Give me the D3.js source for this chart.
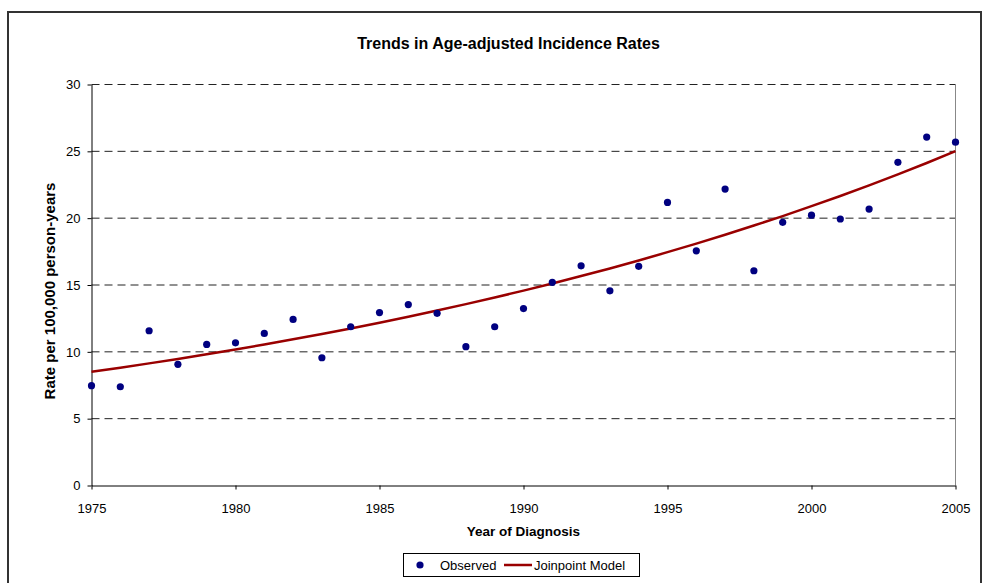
<!DOCTYPE html>
<html>
<head>
<meta charset="utf-8">
<script src="https://cdn.jsdelivr.net/npm/d3@7"></script>
<style>
  body { margin: 0; background: #fff; }
  text { font-family: "Liberation Sans", Arial, sans-serif; }
</style>
</head>
<body>
<svg id="chart" width="985" height="583"></svg>
<script>
// data
const years    = d3.range(1975, 2006)
const observed = [7.43, 7.35, 11.54, 9.03, 10.52, 10.64, 11.34, 12.39, 9.52, 11.84,
                  12.9, 13.5, 12.84, 10.35, 11.84, 13.2, 15.16, 16.4, 14.53, 16.36,
                  21.14, 17.52, 22.14, 16.03, 19.65, 20.19, 19.9, 20.64, 24.14, 26.03, 25.65]
const modelFit = [8.47, 8.78, 9.10, 9.43, 9.78, 10.14, 10.51, 10.90, 11.30, 11.71,
                  12.14, 12.59, 13.05, 13.53, 14.03, 14.54, 15.08, 15.63, 16.20, 16.80,
                  17.42, 18.06, 18.72, 19.41, 20.12, 20.86, 21.62, 22.42, 23.24, 24.09, 24.98]
const yTicks = [0, 5, 10, 15, 20, 25, 30]
const xTicks = [1975, 1980, 1985, 1990, 1995, 2000, 2005]

const svg = d3.select("#chart")

// outer frame
svg.append("rect")
  .attr("x", 8).attr("y", 12)
  .attr("width", 973).attr("height", 600)
  .attr("fill", "none")
  .attr("stroke", "#333")
  .attr("stroke-width", 2)

const x = d3.scaleLinear().domain([1975, 2005]).range([91.5, 955.5])
const y = d3.scaleLinear().domain([0, 30]).range([485, 84])

// grid lines (dashed)
svg.append("g").selectAll("line")
  .data(yTicks.filter(d => d > 0))
  .join("line")
  .attr("x1", x(1975)).attr("x2", x(2005))
  .attr("y1", d => y(d) + 0.5).attr("y2", d => y(d) + 0.5)
  .attr("stroke", "#222")
  .attr("stroke-dasharray", "8,5")

// right border of the plot area
svg.append("line")
  .attr("x1", x(2005)).attr("x2", x(2005))
  .attr("y1", y(30)).attr("y2", y(0))
  .attr("stroke", "#888")

// y axis
let yAxis = svg.append("g")
  .attr("transform", "translate(" + x(1975) + ",0.5)")
  .call(d3.axisLeft(y).tickValues(yTicks).tickSize(4).tickPadding(7).tickSizeOuter(0))
yAxis.selectAll("text").attr("font-size", 13).attr("fill", "#000")
  .style("font-family", "Liberation Sans, Arial, sans-serif")

// x axis
let xAxis = svg.append("g")
  .attr("transform", "translate(0," + (y(0) + 0.5) + ")")
  .call(d3.axisBottom(x).tickValues(xTicks).tickFormat(d3.format("d")).tickSize(4).tickPadding(14).tickSizeOuter(0))
xAxis.selectAll("text").attr("font-size", 13).attr("fill", "#000")
  .style("font-family", "Liberation Sans, Arial, sans-serif")

// model line
let line = d3.line()
  .x((d, i) => x(years[i]))
  .y(d => y(d))
svg.append("path")
  .datum(modelFit)
  .attr("d", line)
  .attr("fill", "none")
  .attr("stroke", "#990000")
  .attr("stroke-width", 2.5)

// observed points
svg.append("g").selectAll("circle")
  .data(observed)
  .join("circle")
  .attr("cx", (d, i) => x(years[i]))
  .attr("cy", d => y(d))
  .attr("r", 3.6)
  .attr("fill", "#000080")

// title and axis labels
svg.append("text")
  .text("Trends in Age-adjusted Incidence Rates")
  .attr("x", 508.5).attr("y", 49)
  .attr("text-anchor", "middle")
  .attr("font-size", 16).attr("font-weight", "bold")

svg.append("text")
  .text("Year of Diagnosis")
  .attr("x", 523.5).attr("y", 536)
  .attr("text-anchor", "middle")
  .attr("font-size", 13.5).attr("font-weight", "bold")

svg.append("text")
  .text("Rate per 100,000 person-years")
  .attr("transform", "translate(55,291) rotate(-90)")
  .attr("text-anchor", "middle")
  .attr("font-size", 15).attr("font-weight", "bold")

// legend
let legend = svg.append("g")
legend.append("rect")
  .attr("x", 403.5).attr("y", 553.5)
  .attr("width", 236).attr("height", 23)
  .attr("fill", "#fff").attr("stroke", "#000")
legend.append("circle")
  .attr("cx", 420).attr("cy", 565).attr("r", 3.6).attr("fill", "#000080")
legend.append("text").text("Observed")
  .attr("x", 440).attr("y", 570).attr("font-size", 13)
legend.append("line")
  .attr("x1", 504).attr("x2", 532).attr("y1", 565).attr("y2", 565)
  .attr("stroke", "#990000").attr("stroke-width", 2.5)
legend.append("text").text("Joinpoint Model")
  .attr("x", 534).attr("y", 570).attr("font-size", 13)
</script>
</body>
</html>
